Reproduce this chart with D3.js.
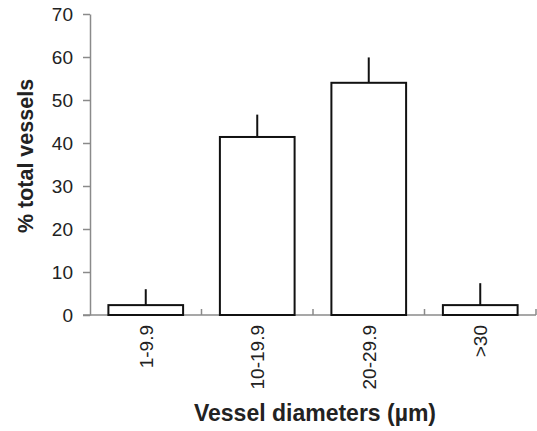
<!DOCTYPE html>
<html>
<head>
<meta charset="utf-8">
<script src="https://cdn.jsdelivr.net/npm/d3@7"></script>
<style>
  body { margin: 0; background: #fff; }
  svg { font-family: "Liberation Sans", Arial, sans-serif; }
</style>
</head>
<body>
<svg id="chart" width="537" height="431"></svg>
<script>
// data
const categories = ["1-9.9", "10-19.9", "20-29.9", ">30"];
const values = [2.3, 41.4, 54.0, 2.3];
const errors = [3.7, 5.2, 5.9, 5.1]; // upper error only
const yTicks = [0, 10, 20, 30, 40, 50, 60, 70];

const width = 537, height = 431;
const margin = { top: 14, right: 1, bottom: 116, left: 90 };

const svg = d3.select("#chart");

const x = d3.scaleBand()
  .domain(categories)
  .range([margin.left, width - margin.right])
  .paddingInner(0.33)
  .paddingOuter(0.165);

const y = d3.scaleLinear()
  .domain([0, 70])
  .range([height - margin.bottom, margin.top]);

// boundaries between categories, for the x ticks
const step = x.step();
const bounds = categories.map((d, i) => margin.left + step * (i + 1));

// x axis line + inside ticks
const gx = svg.append("g");
gx.append("line")
  .attr("x1", margin.left - 7).attr("x2", width - margin.right)
  .attr("y1", y(0)).attr("y2", y(0))
  .attr("stroke", "#8a8a8a").attr("stroke-width", 1.5);
gx.selectAll("line.tk").data(bounds).join("line")
  .attr("class", "tk")
  .attr("x1", d => d).attr("x2", d => d)
  .attr("y1", y(0)).attr("y2", y(0) - 6)
  .attr("stroke", "#8a8a8a").attr("stroke-width", 1.5);

// y axis
const yAxis = g => g
  .attr("transform", "translate(" + margin.left + ",0)")
  .call(d3.axisLeft(y).tickValues(yTicks).tickSize(7).tickPadding(10).tickSizeOuter(0))
  .call(g => g.select(".domain").attr("stroke", "#8a8a8a").attr("stroke-width", 1.5))
  .call(g => g.selectAll(".tick line").attr("stroke", "#8a8a8a").attr("stroke-width", 1.5))
  .call(g => g.selectAll(".tick text").attr("fill", "#222").attr("font-size", 19)
    .attr("font-family", "Liberation Sans, Arial, sans-serif"));
svg.append("g").call(yAxis);

// error bars (upper only)
svg.append("g").selectAll("line").data(categories).join("line")
  .attr("x1", d => x(d) + x.bandwidth() / 2)
  .attr("x2", d => x(d) + x.bandwidth() / 2)
  .attr("y1", (d, i) => y(values[i]))
  .attr("y2", (d, i) => y(values[i] + errors[i]))
  .attr("stroke", "#111").attr("stroke-width", 2);

// bars
svg.append("g").selectAll("rect").data(categories).join("rect")
  .attr("x", d => x(d))
  .attr("width", x.bandwidth())
  .attr("y", (d, i) => y(values[i]))
  .attr("height", (d, i) => y(0) - y(values[i]))
  .attr("fill", "#fff")
  .attr("stroke", "#111").attr("stroke-width", 2);

// category labels, rotated
svg.append("g").selectAll("text").data(categories).join("text")
  .attr("transform", d => "translate(" + (x(d) + x.bandwidth() / 2 + 7) + "," + (y(0) + 10) + ") rotate(-90)")
  .attr("text-anchor", "end")
  .attr("font-size", 19)
  .attr("fill", "#222")
  .text(d => d);

// axis titles
svg.append("text")
  .attr("x", 315)
  .attr("y", 421)
  .attr("text-anchor", "middle")
  .attr("font-size", 23).attr("font-weight", "bold").attr("fill", "#222")
  .text("Vessel diameters (µm)");

svg.append("text")
  .attr("transform", "translate(33,156) rotate(-90)")
  .attr("text-anchor", "middle")
  .attr("font-size", 21.5).attr("font-weight", "bold").attr("fill", "#222")
  .text("% total vessels");
</script>
</body>
</html>
